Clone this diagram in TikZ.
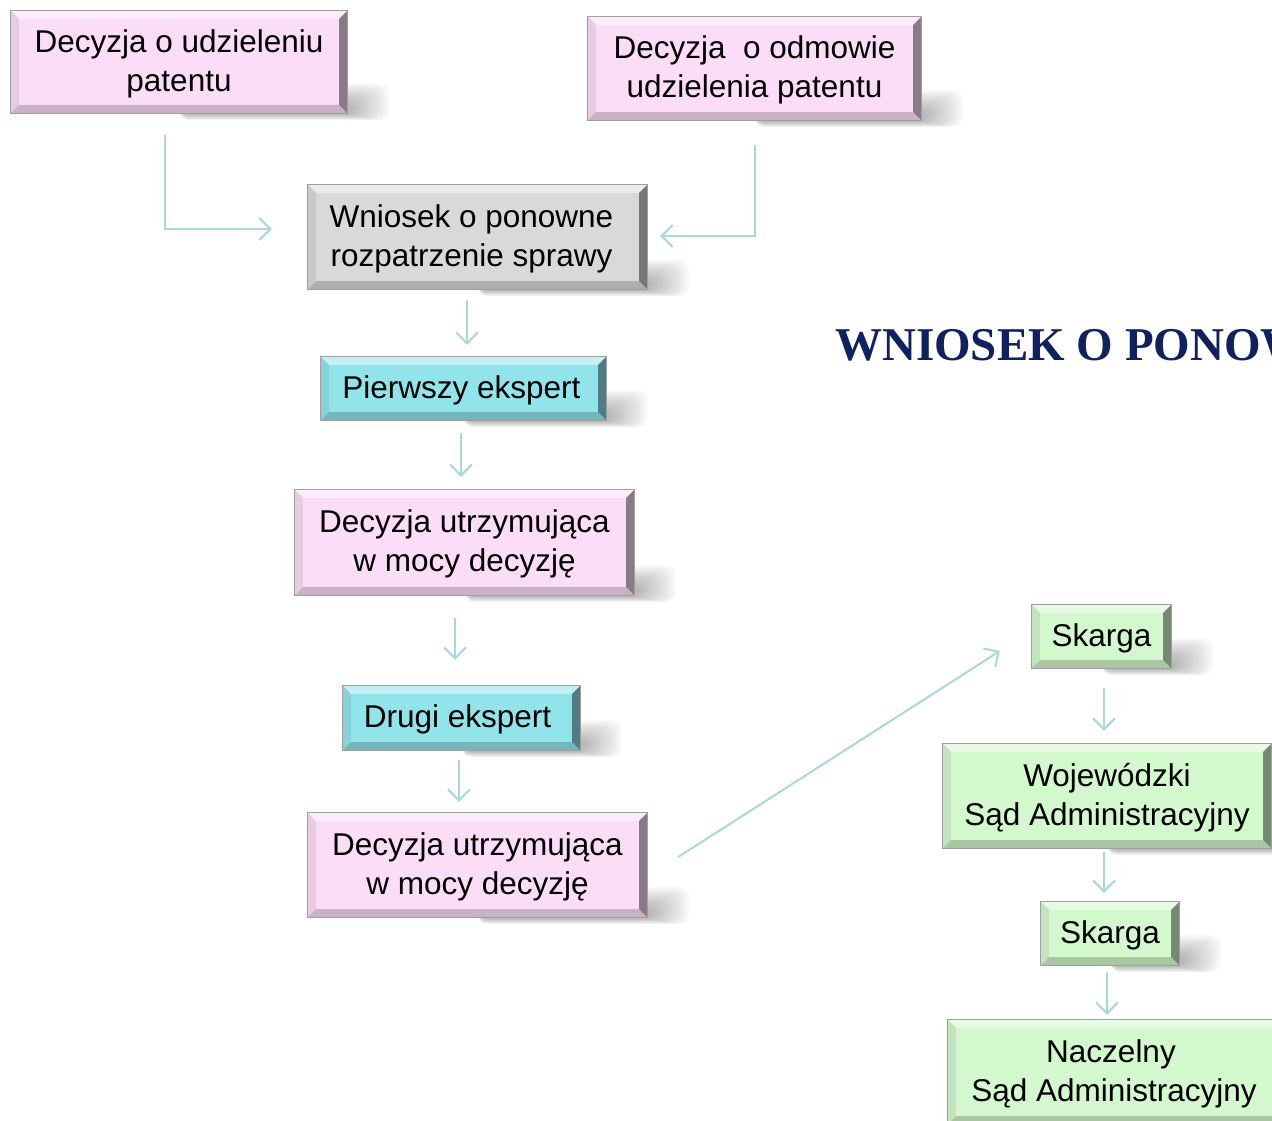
\documentclass[tikz,border=0pt]{standalone}
\usepackage{fontspec}
\setmainfont{Liberation Sans}
\newfontfamily\titlefont{Liberation Serif}
\usetikzlibrary{arrows.meta,calc,backgrounds}
\definecolor{pinkbox}{HTML}{FBDDF7}
\definecolor{graybox}{HTML}{D9D9D9}
\definecolor{cyanbox}{HTML}{90E4EA}
\definecolor{greenbox}{HTML}{D4F8CE}
\definecolor{arrowc}{HTML}{A9D8DC}
\definecolor{navy}{HTML}{10215F}
\tikzset{
  box/.style={inner sep=0pt, align=center, font=\fontsize{31.5}{39}\selectfont, text=black},
  arr/.style={draw=arrowc, line width=2pt, -{Straight Barb[length=11pt,width=22pt]}}
}
\newcommand\boxdeco[2]{%
  \foreach \k in {0,...,13}{\fill[black,opacity=0.022,rounded corners=10pt] ($(#1.south)+(0,-30+1.6*\k)$) rectangle ($(#1.south east)+(42-2.9*\k,7-0.45*\k)$);}
  \fill[#2] (#1.north west) rectangle (#1.south east);
  \fill[#2!55!white] (#1.north west) -- (#1.north east) -- ($(#1.north east)+(-8,8)$) -- ($(#1.north west)+(8,8)$) -- cycle;
  \fill[#2!92!black] (#1.north west) -- ($(#1.north west)+(8,8)$) -- ($(#1.south west)+(8,-8)$) -- (#1.south west) -- cycle;
  \fill[#2!80!black] (#1.south west) -- ($(#1.south west)+(8,-8)$) -- ($(#1.south east)+(-8,-8)$) -- (#1.south east) -- cycle;
  \fill[#2!55!black] (#1.north east) -- (#1.south east) -- ($(#1.south east)+(-8,-8)$) -- ($(#1.north east)+(-8,8)$) -- cycle;
  \draw[line width=1.2pt, gray!75] (#1.north west) rectangle (#1.south east);
}
\begin{document}
\begin{tikzpicture}[x=1pt,y=-1pt]
\useasboundingbox (0,0) rectangle (1272,1121);
\clip (0,0) rectangle (1272,1121);

\node[box, minimum width=336pt, minimum height=102pt] (A) at (179,62) {\rule{0pt}{26pt}Decyzja o udzieleniu\\patentu};
\node[box, minimum width=333pt, minimum height=103pt] (B) at (754.5,68.5) {\rule{0pt}{26pt}Decyzja~ o odmowie\\udzielenia patentu};
\node[box, minimum width=339pt, minimum height=104pt] (C) at (477.5,237) {\rule{0pt}{26pt}\hspace*{-12pt}Wniosek o ponowne\\\hspace*{-12pt}rozpatrzenie sprawy};
\node[box, minimum width=285pt, minimum height=63pt] (D) at (463.5,388.5) {\rule{0pt}{26pt}\hspace*{-4pt}Pierwszy ekspert};
\node[box, minimum width=339pt, minimum height=105pt] (E) at (464.5,542.5) {\rule{0pt}{26pt}Decyzja utrzymująca\\w mocy decyzję};
\node[box, minimum width=237pt, minimum height=64pt] (F) at (461.5,718) {\rule{0pt}{26pt}\hspace*{-8pt}Drugi ekspert};
\node[box, minimum width=339pt, minimum height=104pt] (G) at (477.5,865) {\rule{0pt}{26pt}Decyzja utrzymująca\\w mocy decyzję};
\node[box, minimum width=139pt, minimum height=63pt] (H) at (1101.5,636.5) {\rule{0pt}{26pt}Skarga};
\node[box, minimum width=328pt, minimum height=104pt] (I) at (1107,796) {\rule{0pt}{26pt}Wojewódzki\\Sąd Administracyjny};
\node[box, minimum width=138pt, minimum height=63pt] (J) at (1110,933.5) {\rule{0pt}{26pt}Skarga};
\node[box, minimum width=332pt, minimum height=104pt] (K) at (1114,1072) {\rule{0pt}{26pt}\hspace*{-6pt}Naczelny\\Sąd Administracyjny};

\node[anchor=base west, text=navy, font=\titlefont\bfseries\fontsize{47}{50}\selectfont, inner sep=0pt] (T) at (835,360) {WNIOSEK O PONOWNE};

\begin{scope}[on background layer]
  \boxdeco{A}{pinkbox}
  \boxdeco{B}{pinkbox}
  \boxdeco{C}{graybox}
  \boxdeco{D}{cyanbox}
  \boxdeco{E}{pinkbox}
  \boxdeco{F}{cyanbox}
  \boxdeco{G}{pinkbox}
  \boxdeco{H}{greenbox}
  \boxdeco{I}{greenbox}
  \boxdeco{J}{greenbox}
  \boxdeco{K}{greenbox}
\end{scope}

\draw[arr] ($(A.south)+(-14,22)$) |- ($(C.west)+(-36,-8)$);
\draw[arr] ($(B.south)+(0,25)$) |- ($(C.east)+(13,-1)$);
\draw[arr] ($(C.south)+(-10.5,11)$) -- ($(D.north)+(3.5,-12)$);
\draw[arr] ($(D.south)+(-2.5,13)$) -- ($(E.north)+(-3.5,-13)$);
\draw[arr] ($(E.south)+(-9.5,23)$) -- ($(F.north)+(-6.5,-26)$);
\draw[arr] ($(F.south)+(-2.5,10)$) -- ($(G.north)+(-18.5,-11)$);
\draw[arr] ($(G.east)+(31,-8)$) -- ($(H.west)+(-32,14.5)$);
\draw[arr] ($(H.south)+(2.5,20)$) -- ($(I.north)+(-3,-13)$);
\draw[arr] ($(I.south)+(-3,4)$) -- ($(J.north)+(-6,-9)$);
\draw[arr] ($(J.south)+(-3,7)$) -- ($(K.north)+(-7,-5)$);
\end{tikzpicture}
\end{document}
